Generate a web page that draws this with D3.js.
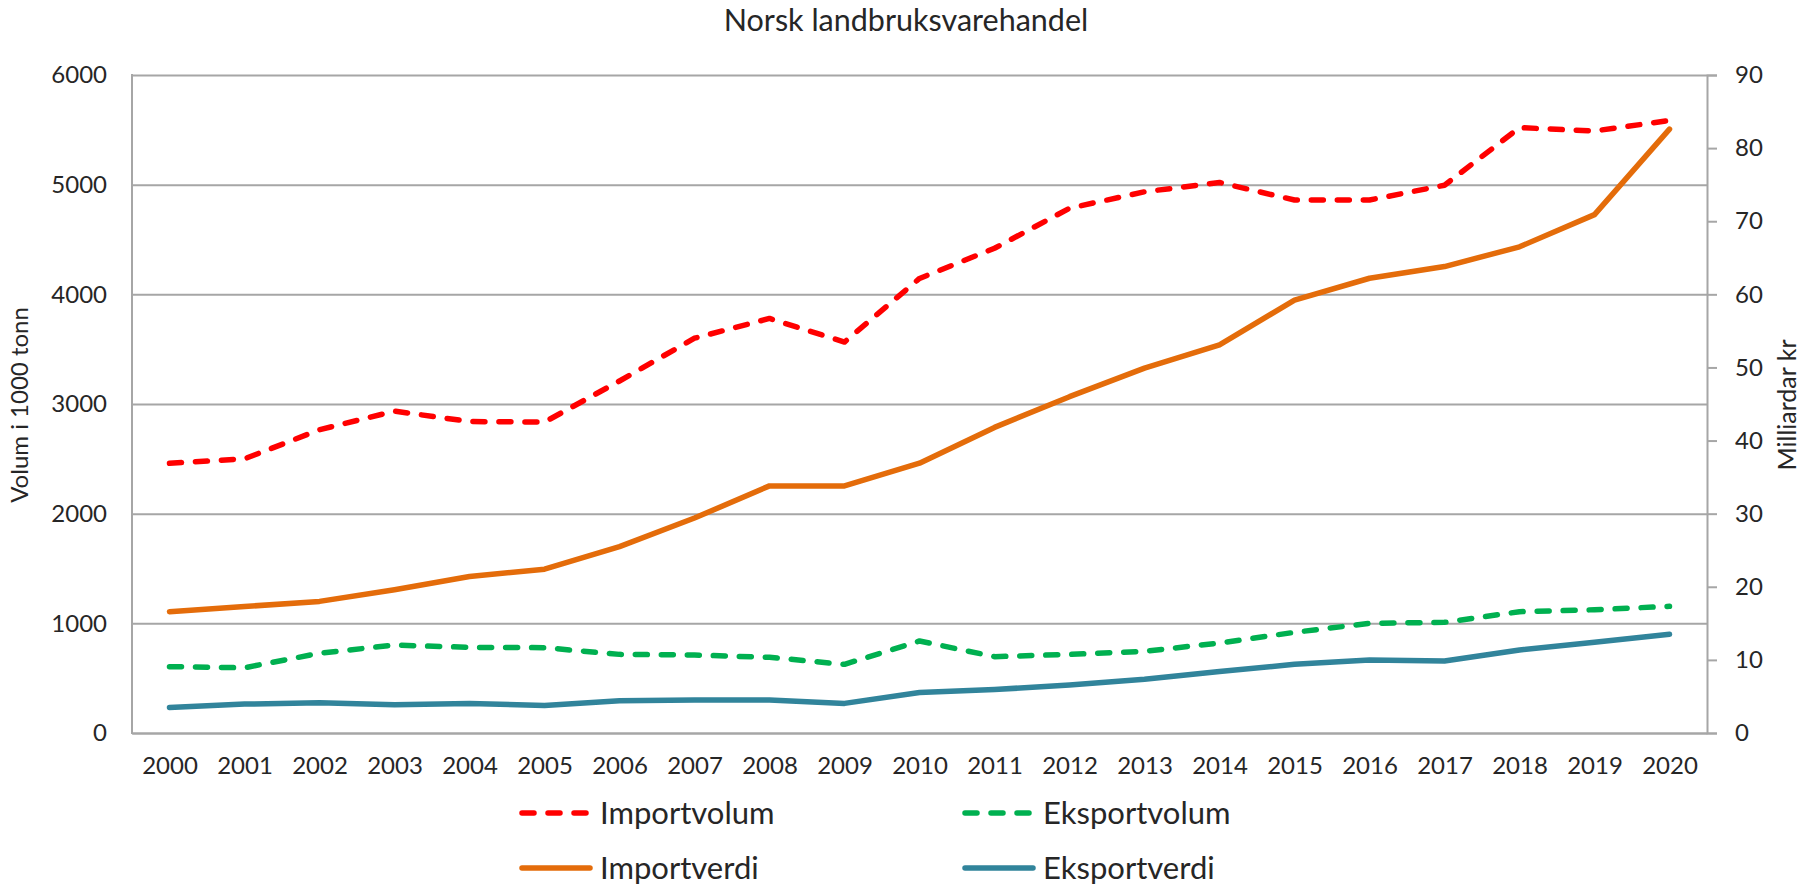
<!DOCTYPE html>
<html>
<head>
<meta charset="utf-8">
<script src="https://cdn.jsdelivr.net/npm/d3@7"></script>
<style>
  body{margin:0;background:#fff;}
  text{font-family:Lato,"Noto Sans",sans-serif;fill:#262626;}
</style>
</head>
<body>
<svg id="canvas" width="1813" height="886"></svg>
<script>
// data
let years=[2000,2001,2002,2003,2004,2005,2006,2007,2008,2009,2010,2011,2012,2013,2014,2015,2016,2017,2018,2019,2020]
let importvolum=[2460,2500,2765,2935,2840,2835,3210,3600,3780,3565,4145,4420,4785,4935,5020,4860,4860,4995,5520,5490,5585]
let eksportvolum=[605,595,727,802,781,778,717,711,690,626,839,696,717,745,820,918,1000,1009,1106,1124,1155]
let importverdi=[16.6,17.3,18.0,19.6,21.4,22.4,25.5,29.4,33.8,33.8,36.9,41.8,46.0,49.9,53.1,59.2,62.2,63.8,66.5,70.9,82.6]
let eksportverdi=[3.5,3.95,4.15,3.85,4.05,3.75,4.4,4.5,4.5,4.05,5.55,5.95,6.55,7.35,8.4,9.4,10.0,9.85,11.35,12.4,13.5]
let leftTicks=[0,1000,2000,3000,4000,5000,6000]
let rightTicks=[0,10,20,30,40,50,60,70,80,90]

let series=[
  {name:"Importvolum",values:importvolum,axis:"left",color:"#FF0000",dash:true},
  {name:"Eksportvolum",values:eksportvolum,axis:"left",color:"#00B050",dash:true},
  {name:"Importverdi",values:importverdi,axis:"right",color:"#E46C0A",dash:false},
  {name:"Eksportverdi",values:eksportverdi,axis:"right",color:"#31849B",dash:false}
]

let canvas=d3.select("#canvas")
const plotL=132,plotR=1707,plotT=75,plotB=733
const grid="#A6A6A6"

let x=d3.scalePoint().domain(years).range([plotL,plotR]).padding(0.5)
let yL=d3.scaleLinear().domain([0,6000]).range([plotB,plotT])
let yR=d3.scaleLinear().domain([0,90]).range([plotB,plotT])

// title
canvas.append("text")
  .attr("x",906).attr("y",31)
  .attr("text-anchor","middle")
  .style("font-size","30.5px")
  .text("Norsk landbruksvarehandel")

// left axis with gridlines
let gl=canvas.append("g").attr("transform",`translate(${plotL},0)`)
  .call(d3.axisLeft(yL).tickValues(leftTicks).tickSize(-(plotR-plotL)).tickPadding(25).tickFormat(d3.format("d")))
gl.select(".domain").remove()
gl.selectAll(".tick line").attr("stroke",grid).attr("stroke-width",2)
gl.selectAll(".tick text").style("font-size","24px").attr("fill","#262626")

// right axis
let gr=canvas.append("g").attr("transform",`translate(${plotR},0)`)
  .call(d3.axisRight(yR).tickValues(rightTicks).tickSize(10).tickPadding(18))
gr.select(".domain").attr("stroke",grid).attr("stroke-width",2)
gr.selectAll(".tick line").attr("stroke",grid).attr("stroke-width",2)
gr.selectAll(".tick text").style("font-size","24px").attr("fill","#262626")

// bottom axis
let gx=canvas.append("g").attr("transform",`translate(0,${plotB})`)
  .call(d3.axisBottom(x).tickSize(0).tickPadding(24))
gx.select(".domain").attr("stroke",grid).attr("stroke-width",2)
gx.selectAll(".tick text").style("font-size","24px").attr("fill","#262626")

// left frame line
canvas.append("line")
  .attr("x1",plotL).attr("x2",plotL).attr("y1",plotT-1).attr("y2",plotB+1)
  .attr("stroke",grid).attr("stroke-width",2)

// axis titles
canvas.append("text")
  .attr("transform","translate(28,405) rotate(-90)")
  .attr("text-anchor","middle")
  .style("font-size","24px")
  .text("Volum i 1000 tonn")
canvas.append("text")
  .attr("transform","translate(1796,405) rotate(-90)")
  .attr("text-anchor","middle")
  .style("font-size","25px")
  .text("Milliardar kr")

// lines
series.forEach(s=>{
  let yScale=s.axis==="left"?yL:yR
  let line=d3.line()
    .x((d,i)=>x(years[i]))
    .y(d=>yScale(d))
  canvas.append("path")
    .datum(s.values)
    .attr("d",line)
    .attr("fill","none")
    .attr("stroke",s.color)
    .attr("stroke-width",5.5)
    .attr("stroke-linejoin","round")
    .attr("stroke-linecap","round")
    .attr("stroke-dasharray",s.dash?"12,14":null)
})

// legend
let legendPos=[[520,813],[963,813],[520,868],[963,868]]
let lg=canvas.append("g")
lg.selectAll("g")
  .data(series)
  .enter()
  .append("g")
  .attr("transform",(d,i)=>`translate(${legendPos[i][0]},${legendPos[i][1]})`)
  .each(function(d){
    let g=d3.select(this)
    g.append("line")
      .attr("x1",2).attr("x2",70).attr("y1",0).attr("y2",0)
      .attr("stroke",d.color).attr("stroke-width",5.5)
      .attr("stroke-linecap","round")
      .attr("stroke-dasharray",d.dash?"12,14":null)
    g.append("text")
      .attr("x",80).attr("y",0).attr("dy","0.35em")
      .style("font-size","31px")
      .text(d.name)
  })
</script>
</body>
</html>
